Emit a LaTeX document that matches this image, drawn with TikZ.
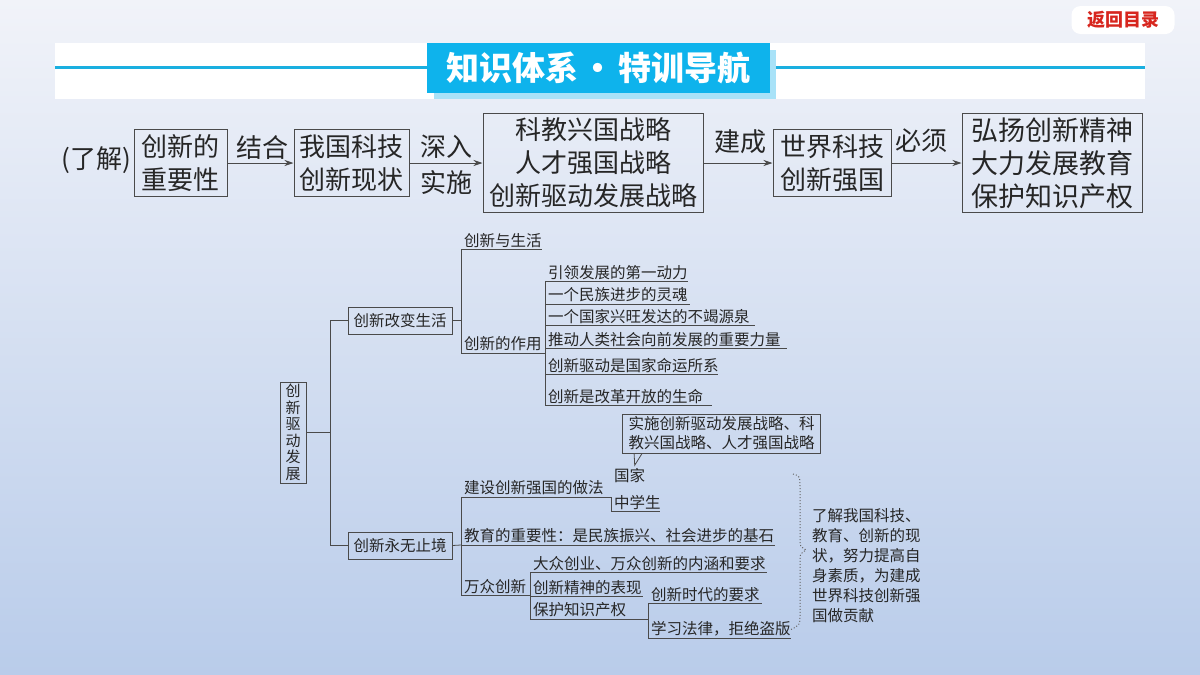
\documentclass[tikz,border=0pt]{standalone}
\usepackage{fontspec}
\newfontfamily\cjk{Noto Sans CJK SC}
\usetikzlibrary{arrows.meta,calc}
\definecolor{bgtop}{HTML}{F1F3F9}
\definecolor{bgbot}{HTML}{B9CCEA}
\definecolor{cyanline}{HTML}{1AAFE0}
\definecolor{titlebox}{HTML}{0EB3EC}
\definecolor{titleshadow}{HTML}{A8E2F8}
\definecolor{ink}{HTML}{262626}
\definecolor{linec}{HTML}{4A4A4A}
\definecolor{retred}{HTML}{D7261E}
\begin{document}
\begin{tikzpicture}[x=1pt,y=-1pt,
  bigfont/.style={font=\cjk\fontsize{26}{33}\selectfont},
  topbox/.style={draw=linec, line width=1pt, text=ink, inner sep=0pt, align=center, bigfont},
  toplbl/.style={text=ink, inner sep=0pt, bigfont},
  arr/.style={draw=linec, line width=0.9pt, -{Stealth[length=9pt,width=6pt]}},
  smallfont/.style={font=\cjk\fontsize{15.5}{19}\selectfont},
  branchbox/.style={draw=linec, line width=0.9pt, text=ink, inner sep=0pt, minimum width=104pt, minimum height=27pt, smallfont},
  leaf/.style={anchor=south west, inner xsep=3pt, inner ysep=1.5pt, text=ink, smallfont},
  tline/.style={draw=linec, line width=0.8pt},
  brace/.style={draw=black!60, line width=1pt, dotted}
]
\useasboundingbox (0,0) rectangle (1200,675);
\shade[top color=bgtop, bottom color=bgbot] (0,0) rectangle (1200,675);

% header
\fill[white] (55,43) rectangle (1145,99);
\draw[cyanline, line width=3pt] (55,67) -- (1145,67);
\fill[titleshadow] (434,50) rectangle (776,99);
\node[fill=titlebox, minimum width=343pt, minimum height=50pt, inner sep=0pt, text=white,
      font=\cjk\bfseries\fontsize{33}{36}\selectfont] (title) at (598.5,68) {知识体系\kern4pt·\kern4pt特训导航};
\node[fill=white, rounded corners=9pt, minimum width=103pt, minimum height=28pt, inner sep=0pt,
      text=retred, font=\cjk\bfseries\fontsize{18}{20}\selectfont] (ret) at (1123,20) {返回目录};

% top row
\node[toplbl] (know) at (96,160) {(了解)};
\node[topbox, minimum width=93pt, minimum height=67pt] (b1) at (180.5,163) {创新的\\重要性};
\node[topbox, minimum width=115pt, minimum height=67pt] (b2) at (351.5,163) {我国科技\\创新现状};
\node[topbox, minimum width=220pt, minimum height=99pt] (b3) at (593,163) {科教兴国战略\\人才强国战略\\创新驱动发展战略};
\node[topbox, minimum width=118pt, minimum height=67pt] (b4) at (832,163) {世界科技\\创新强国};
\node[topbox, minimum width=180pt, minimum height=99pt, font=\cjk\fontsize{27}{33}\selectfont] (b5) at (1052,163) {弘扬创新精神\\大力发展教育\\保护知识产权};
\draw[arr] (b1.east) -- (b2.west);
\draw[arr] (b2.east) -- (b3.west);
\draw[arr] (b3.east) -- (b4.west);
\draw[arr] (b4.east) -- (b5.west);
\node[toplbl] (l1) at (262,148) {结合};
\node[toplbl] (l2) at (446,147) {深入};
\node[toplbl] (l3) at (446,183) {实施};
\node[toplbl] (l4) at (740,142) {建成};
\node[toplbl] (l5) at (921,141) {必须};

% tree root
\node[draw=linec, line width=0.9pt, text=ink, inner sep=0pt, minimum width=26pt, minimum height=101pt, align=center,
      font=\cjk\fontsize{15}{16.5}\selectfont] (root) at (293,432.5) {创\\新\\驱\\动\\发\\展};
\coordinate (spine) at (330,432.5);
\node[branchbox] (A) at (400,320.5) {创新改变生活};
\node[branchbox] (B) at (400,545.5) {创新永无止境};
\draw[tline] (root.east) -- (spine);
\draw[tline] (A.west) -| (spine);
\draw[tline] (B.west) -| (spine);

% branch A
\node[leaf] (t1) at (461,249) {创新与生活};
\node[leaf] (t2) at (461,353) {创新的作用};
\draw[tline] (t1.south west) -- ++(81,0);
\draw[tline] (t2.south west) -- ++(84,0);
\draw[tline] (t1.south west) -- (t2.south west);
\draw[tline] (A.east) -- (A.east -| t1.south west);

\node[leaf] (u1) at (545,281) {引领发展的第一动力};
\node[leaf] (u2) at (545,304) {一个民族进步的灵魂};
\node[leaf] (u3) at (545,325) {一个国家兴旺发达的不竭源泉};
\node[leaf] (u4) at (545,348) {推动人类社会向前发展的重要力量};
\node[leaf] (u5) at (545,374) {创新驱动是国家命运所系};
\node[leaf] (u6) at (545,405) {创新是改革开放的生命};
\draw[tline] (u1.south west) -- ++(143,0);
\draw[tline] (u2.south west) -- ++(145,0);
\draw[tline] (u3.south west) -- ++(210,0);
\draw[tline] (u4.south west) -- ++(242,0);
\draw[tline] (u5.south west) -- ++(173,0);
\draw[tline] (u6.south west) -- ++(167,0);
\draw[tline] (u1.south west) -- (u6.south west);

% branch B
\node[leaf] (m1) at (461,497) {建设创新强国的做法};
\node[leaf] (m2) at (461,545) {教育的重要性：是民族振兴、社会进步的基石};
\node[leaf] (m3) at (461,595) {万众创新};
\draw[tline] (m2.south west) -- ++(314,0);
\draw[tline] (m3.south west) -- ++(69,0);
\draw[tline] (m1.south west) -- (m3.south west);
\draw[tline] (B.east) -- (m2.south west);

\node[leaf] (g1) at (611,484) {国家};
\node[leaf] (g2) at (611,511) {中学生};
\coordinate (m1end) at ($(m1.south west)+(150,0)$);
\draw[tline] (m1.south west) -- (m1end) -- (g2.south west) -- ++(49,0);

\node[draw=linec, line width=0.8pt, text=ink, inner xsep=6pt, inner ysep=0pt, minimum width=197pt, minimum height=39pt,
      align=left, font=\cjk\fontsize{15.5}{19}\selectfont] (co) at (721.5,433.5) {实施创新驱动发展战略、科\\教兴国战略、人才强国战略};
\coordinate (tip) at ($(g1.north)+(5,-1)$);
\draw[tline] ($(co.south west)+(12,0)$) -- (tip) -- ($(co.south west)+(20,0)$);

\node[leaf] (p1) at (530,572) {大众创业、万众创新的内涵和要求};
\node[leaf] (p2) at (530,596) {创新精神的表现};
\node[leaf] (p3) at (530,619) {保护知识产权};
\draw[tline] (p1.south west) -- ++(237,0);
\draw[tline] (p2.south west) -- ++(113,0);
\draw[tline] (p3.south west) -- ++(118,0);
\draw[tline] (p1.south west) -- (p3.south west);

\node[leaf] (q1) at (648,603) {创新时代的要求};
\node[leaf] (q2) at (648,638) {学习法律，拒绝盗版};
\draw[tline] (q1.south west) -- ++(114,0);
\draw[tline] (q2.south west) -- ++(143,0);
\draw[tline] (q1.south west) -- (q2.south west);

% brace and note
\draw[brace] (793,474) .. controls (800,476) .. (800,488) -- (800,540) .. controls (800,546) .. (806,550)
             .. controls (800,554) .. (800,560) -- (800,615) .. controls (800,625) .. (790,630);
\node[anchor=north west, inner sep=0pt, align=left, text=ink, font=\cjk\fontsize{15.5}{20}\selectfont] (note) at (812,508)
  {了解我国科技、\\教育、创新的现\\状，努力提高自\\身素质，为建成\\世界科技创新强\\国做贡献};
\end{tikzpicture}
\end{document}
